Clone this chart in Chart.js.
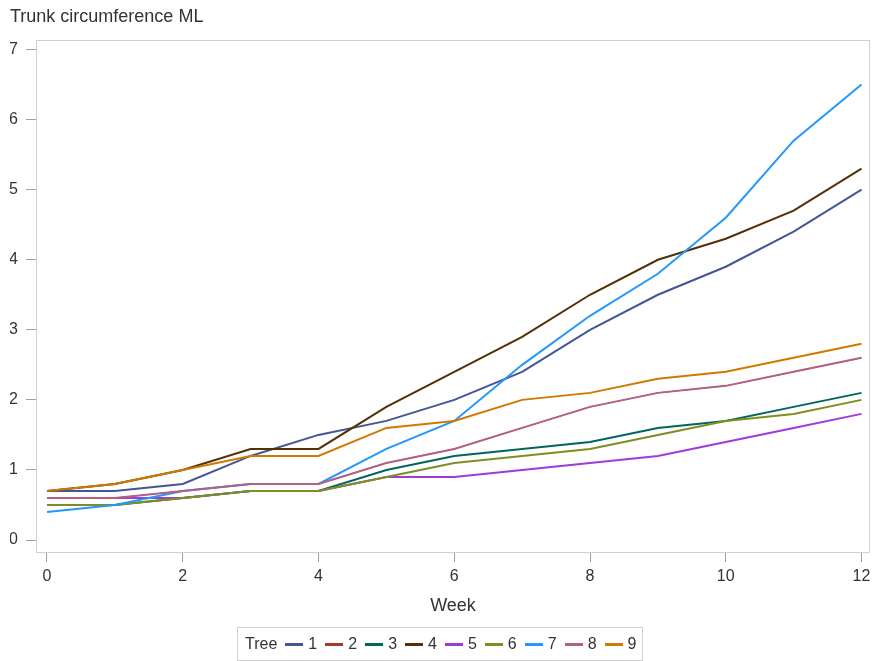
<!DOCTYPE html>
<html>
<head>
<meta charset="utf-8">
<script src="https://cdn.jsdelivr.net/npm/chart.js@4"></script>
<style>
  body { margin: 0; background: #fff; font-family: Arial, "Liberation Sans", sans-serif; }
  #wrap { position: relative; width: 872px; height: 661px; }
  #leyenda {
    position: absolute; left: 237px; top: 627px; width: 406px; height: 34px;
    border: 1px solid #d0d0d0; box-sizing: border-box;
    display: flex; align-items: center; padding: 0 0 0 7px;
    font-size: 16px; color: #333; white-space: nowrap;
  }
  #leyenda .item { display: flex; align-items: center; margin-left: 8px; }
  #leyenda .linea { width: 18px; height: 3px; margin-right: 5px; }
</style>
</head>
<body>
<div id="wrap">
  <canvas id="grafico" width="872" height="661"></canvas>
  <div id="leyenda"><span>Tree</span></div>
</div>
<script>
// Datos
const semanas = [0, 1, 2, 3, 4, 5, 6, 7, 8, 9, 10, 11, 12];
const arboles = ['1', '2', '3', '4', '5', '6', '7', '8', '9'];
const colores = ['#445694', '#A23A2E', '#01665E', '#543005', '#9D3CDB', '#7F8E1F', '#2597FA', '#B26084', '#D17800'];

const arbol1 = [0.7, 0.7, 0.8, 1.2, 1.5, 1.7, 2.0, 2.4, 3.0, 3.5, 3.9, 4.4, 5.0];
// el arbol 2 queda tapado por el 8 en la imagen
const arbol2 = [0.6, 0.6, 0.7, 0.8, 0.8, 1.1, 1.3, 1.6, 1.9, 2.1, 2.2, 2.4, 2.6];
const arbol3 = [0.5, 0.5, 0.6, 0.7, 0.7, 1.0, 1.2, 1.3, 1.4, 1.6, 1.7, 1.9, 2.1];
const arbol4 = [0.7, 0.8, 1.0, 1.3, 1.3, 1.9, 2.4, 2.9, 3.5, 4.0, 4.3, 4.7, 5.3];
const arbol5 = [0.6, 0.6, 0.6, 0.7, 0.7, 0.9, 0.9, 1.0, 1.1, 1.2, 1.4, 1.6, 1.8];
const arbol6 = [0.5, 0.5, 0.6, 0.7, 0.7, 0.9, 1.1, 1.2, 1.3, 1.5, 1.7, 1.8, 2.0];
const arbol7 = [0.4, 0.5, 0.7, 0.8, 0.8, 1.3, 1.7, 2.5, 3.2, 3.8, 4.6, 5.7, 6.5];
const arbol8 = [0.6, 0.6, 0.7, 0.8, 0.8, 1.1, 1.3, 1.6, 1.9, 2.1, 2.2, 2.4, 2.6];
const arbol9 = [0.7, 0.8, 1.0, 1.2, 1.2, 1.6, 1.7, 2.0, 2.1, 2.3, 2.4, 2.6, 2.8];
const series = [arbol1, arbol2, arbol3, arbol4, arbol5, arbol6, arbol7, arbol8, arbol9];

// Marco gris alrededor del area de datos
const marco = {
  id: 'marco',
  afterDraw(chart) {
    const a = chart.chartArea;
    const ctx = chart.ctx;
    ctx.save();
    ctx.strokeStyle = '#d0d0d0';
    ctx.lineWidth = 1;
    ctx.strokeRect(a.left + 0.5, a.top + 0.5, a.right - a.left - 1, a.bottom - a.top);
    ctx.restore();
  }
};

const datasets = series.map((valores, i) => ({
  label: arboles[i],
  data: valores.map((v, j) => ({ x: semanas[j], y: v })),
  borderColor: colores[i],
  backgroundColor: colores[i],
  borderWidth: i === 1 ? 1 : 2,
  pointRadius: 0,
  tension: 0,
  order: -i
}));

new Chart(document.getElementById('grafico'), {
  type: 'line',
  data: { datasets: datasets },
  options: {
    responsive: false,
    animation: false,
    layout: { autoPadding: false, padding: { left: 10, right: 2, top: 0, bottom: 39 } },
    plugins: {
      legend: { display: false },
      tooltip: { enabled: false },
      title: {
        display: true,
        text: 'Trunk circumference ML',
        align: 'start',
        color: '#333',
        font: { size: 18, weight: 'normal', family: 'Arial, "Liberation Sans", sans-serif' },
        padding: { top: 6.5, bottom: 11.9 }
      }
    },
    scales: {
      x: {
        type: 'linear',
        min: -0.162,
        max: 12.125,
        ticks: { stepSize: 2, includeBounds: false, padding: 5, color: '#333', font: { size: 16 } },
        grid: { drawOnChartArea: false, drawTicks: true, tickLength: 10, color: '#a0a0a0' },
        border: { display: false },
        title: { display: true, text: 'Week', color: '#333', font: { size: 18 }, padding: { top: 4, bottom: 5 } },
        afterFit: s => { s.height = 70; s.paddingLeft = 0; s.paddingRight = 0; }
      },
      y: {
        min: -0.171,
        max: 7.136,
        ticks: { stepSize: 1, includeBounds: false, padding: 8, color: '#333', font: { size: 16 } },
        grid: { drawOnChartArea: false, drawTicks: true, tickLength: 10, color: '#a0a0a0' },
        border: { display: false },
        afterFit: s => { s.width = 26; s.paddingTop = 0; s.paddingBottom = 0; }
      }
    }
  },
  plugins: [marco]
});

// Leyenda en HTML
const leyenda = document.getElementById('leyenda');
arboles.forEach((nombre, i) => {
  const item = document.createElement('span');
  item.className = 'item';
  const linea = document.createElement('span');
  linea.className = 'linea';
  linea.style.background = colores[i];
  item.appendChild(linea);
  item.appendChild(document.createTextNode(nombre));
  leyenda.appendChild(item);
});
</script>
</body>
</html>
